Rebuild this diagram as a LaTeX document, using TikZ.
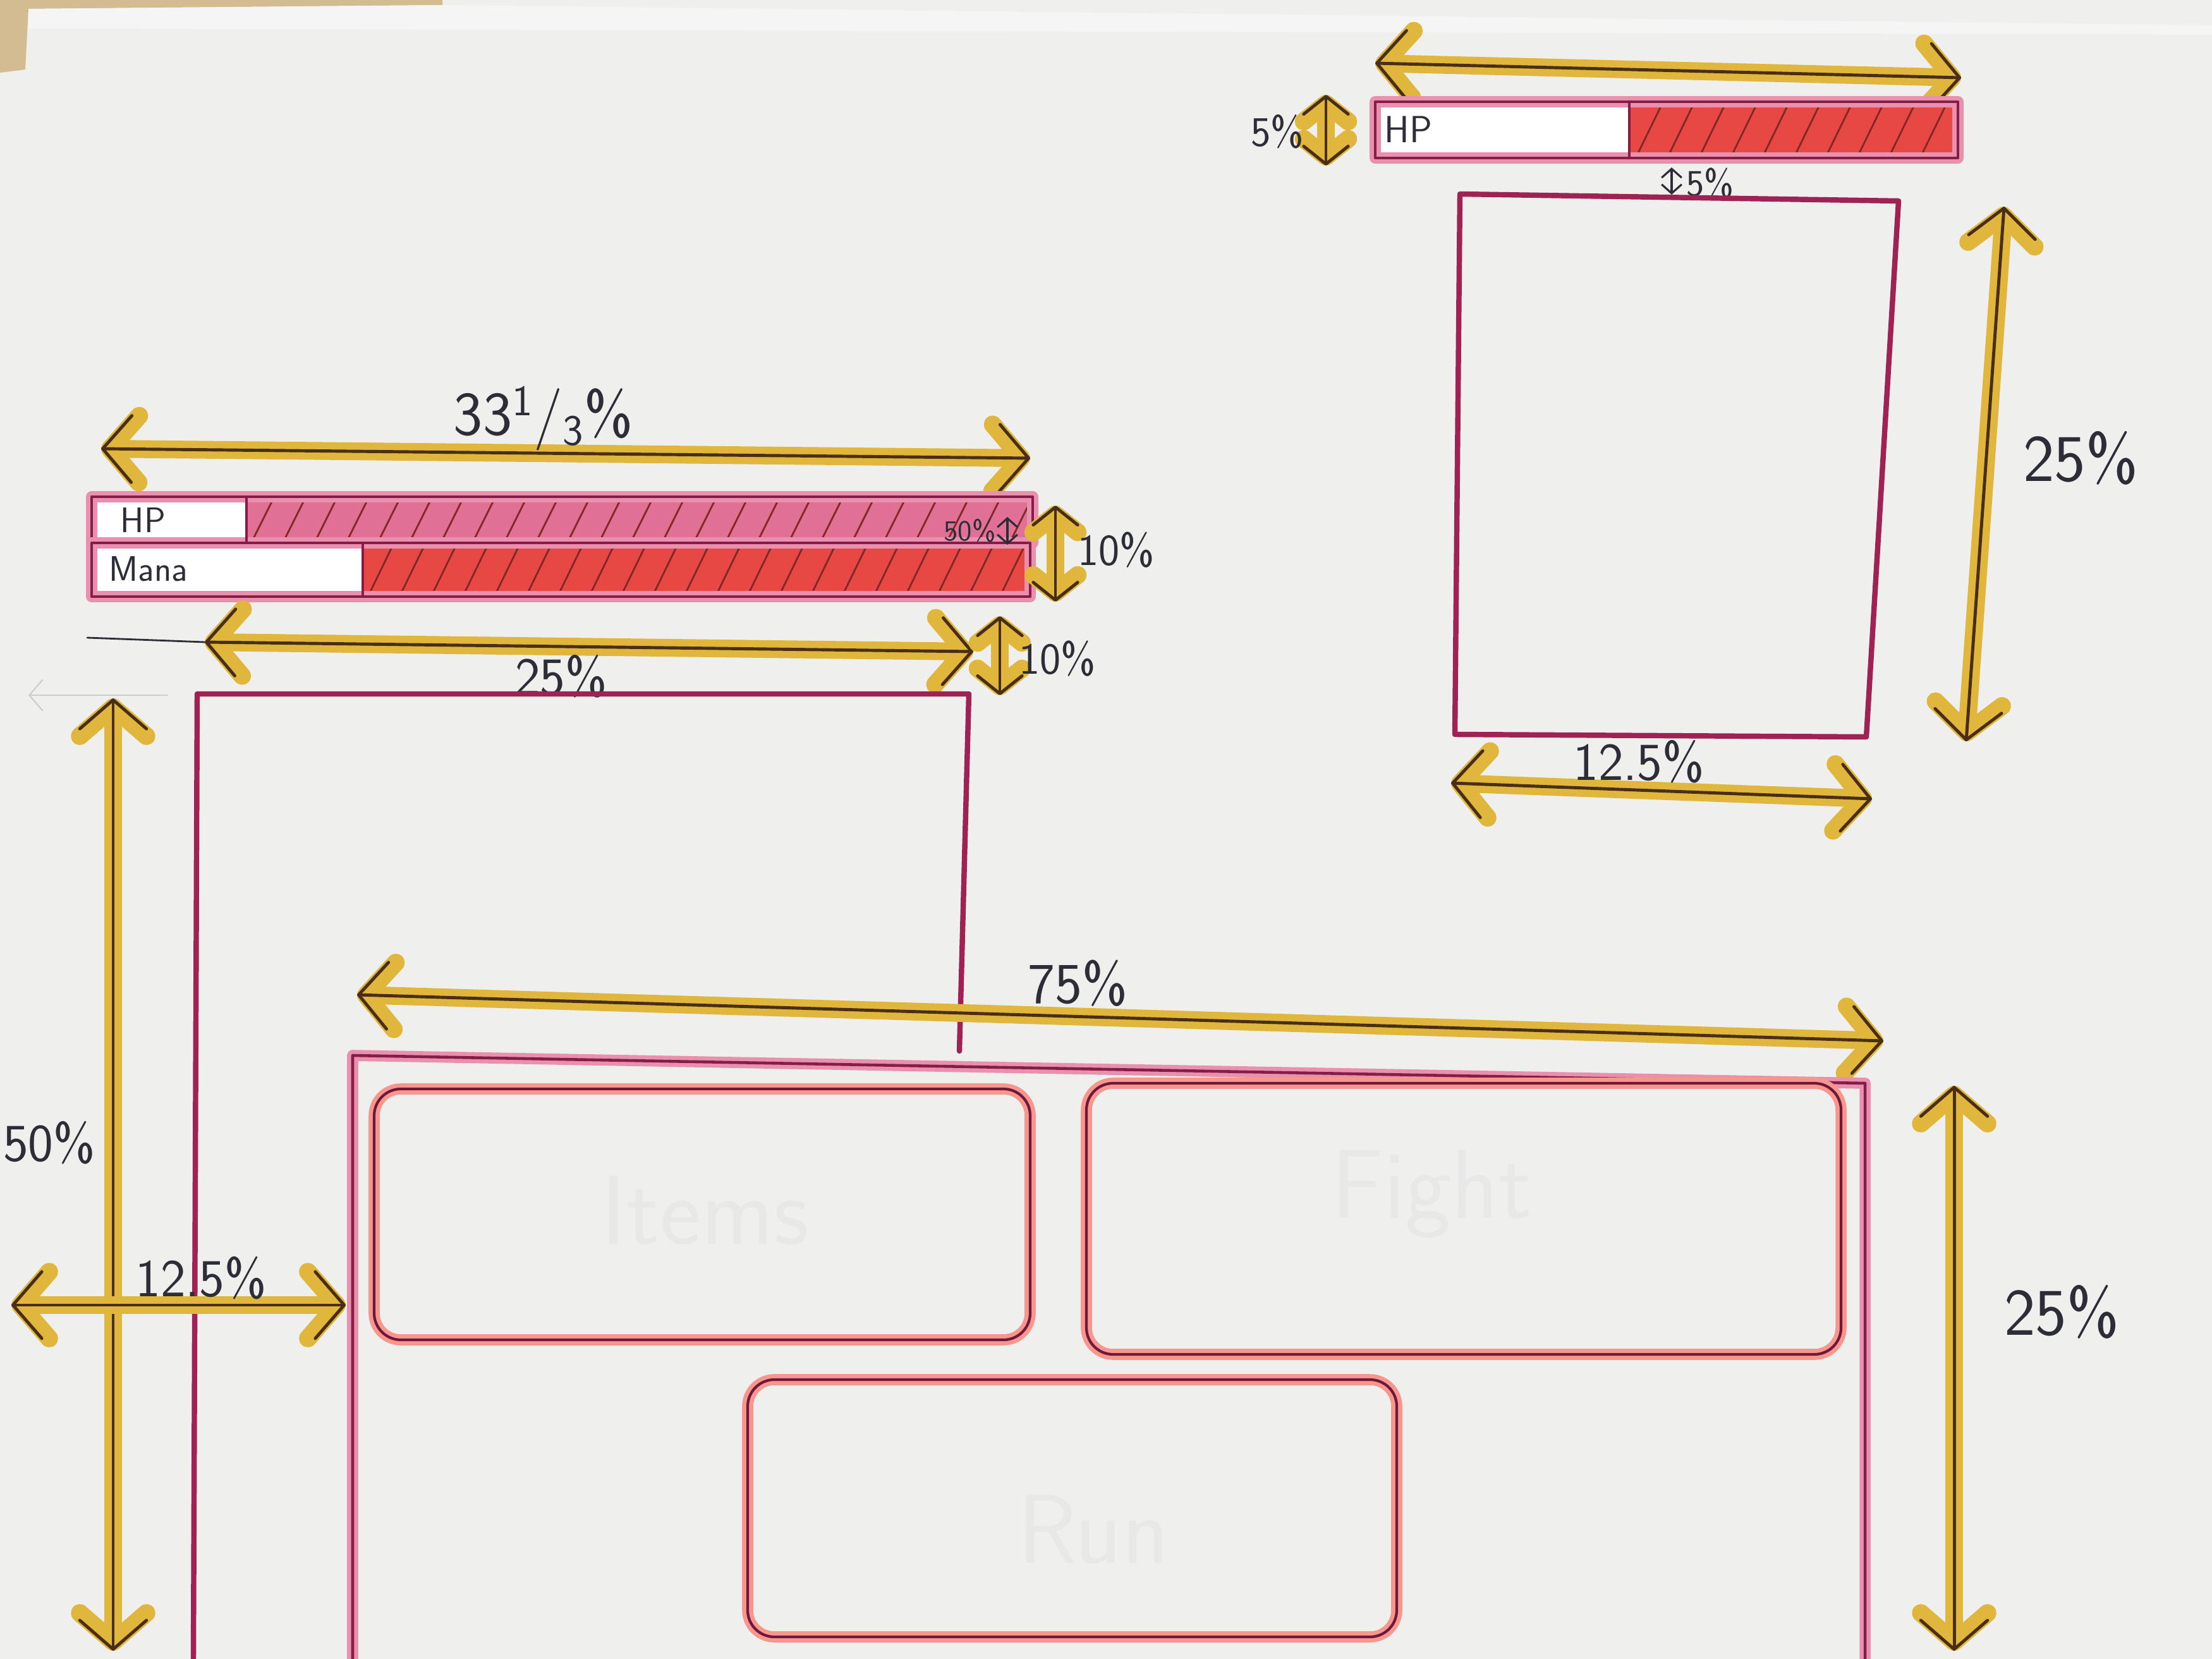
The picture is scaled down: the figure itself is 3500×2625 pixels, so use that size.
\documentclass[tikz,border=0pt]{standalone}
\usepackage{fontspec}
\usetikzlibrary{arrows.meta}
\definecolor{cpaper}{RGB}{239,239,237}
\definecolor{cwood}{RGB}{212,188,146}
\definecolor{cgold}{RGB}{224,182,60}
\definecolor{cink}{RGB}{72,46,20}
\definecolor{cplum}{RGB}{158,34,84}
\definecolor{crose}{RGB}{222,96,138}
\definecolor{cred}{RGB}{232,72,68}
\definecolor{csalmon}{RGB}{246,150,140}
\definecolor{cpen}{RGB}{45,45,55}
\tikzset{sketch/.style={x=0.01cm,y=-0.01cm,line join=round,line cap=round}}
\tikzset{bigbarb/.tip={Straight Barb[length=13pt,width=30pt,round]},
         smallbarb/.tip={Straight Barb[length=8pt,width=20pt,round]},
         tinybarb/.tip={Straight Barb[length=4pt,width=9pt]}}
\tikzset{measure/.style={cink,line width=1.4pt,#1-#1,
           preaction={draw=cgold,line width=8pt,#1-#1}},
         measure/.default=bigbarb,
         tinyarrow/.style={cpen,line width=0.9pt,tinybarb-tinybarb},
         frame/.style={draw=cplum,line width=2.4pt},
         barframe/.style={draw=cplum!85!black,line width=1.3pt,preaction={draw=crose!70,line width=5pt}},
         button/.style={draw=cplum!70!black,line width=1.2pt,rounded corners=12pt,preaction={draw=csalmon,line width=5pt}},
         hatch/.style={cred!55!black,line width=0.8pt},
         hand/.style={text=cpen,inner sep=0pt,font=\sffamily\fontsize{#1}{#1}\selectfont},
         pencil/.style={text=black!9,inner sep=0pt,font=\sffamily\fontsize{44}{44}\selectfont}}

\begin{document}
\begin{tikzpicture}[sketch]
  \fill[cpaper] (0,0) rectangle (3500,2625);
  \useasboundingbox (0,0) rectangle (3500,2625);
  \fill[cwood] (0,0) -- (700,0) -- (700,8) -- (45,14) -- (40,110) -- (0,115) -- cycle;
  \fill[black!4] (45,14) -- (700,8) -- (3500,40) -- (3500,55) -- (45,45) -- cycle;

  % top right: small hp bar over the portrait
  \coordinate (tbL) at (2176,100); \coordinate (tbR) at (3103,123);
  \draw[measure] (tbL) -- (tbR);
  \fill[white] (2176,161) rectangle (2578,250);
  \fill[cred] (2578,161) rectangle (3098,250);
  \begin{scope}
    \clip (2578,161) rectangle (3098,250);
    \foreach \x in {2590,2640,...,3110} \draw[hatch] (\x,246) -- ++(40,-82);
  \end{scope}
  \draw[barframe] (2176,161) rectangle (3098,250);
  \draw[cplum!85!black,line width=1.3pt] (2578,161) -- (2578,250);
  \node[hand=17,anchor=west] (hpS) at (2190,205) {HP};
  \coordinate (hsT) at (2098,150); \coordinate (hsB) at (2098,262);
  \draw[measure=smallbarb] (hsT) -- (hsB);
  \node[hand=19,anchor=east] (hsLbl) at (2064,208) {5\%};
  \coordinate (gapT) at (2645,265); \coordinate (gapB) at (2645,308);
  \draw[tinyarrow] (gapT) -- (gapB);
  \node[hand=17,anchor=west] (gapLbl) at (2668,290) {5\%};

  \draw[frame] (2310,307) -- (3004,318) -- (2953,1166) -- (2302,1162) -- cycle;
  \coordinate (prT) at (3171,327); \coordinate (prB) at (3111,1173);
  \draw[measure] (prT) -- (prB);
  \node[hand=30] (prLbl) at (3292,725) {25\%};
  \coordinate (pwL) at (2296,1239); \coordinate (pwR) at (2962,1264);
  \draw[measure] (pwL) -- (pwR);
  \node[hand=24] (pwLbl) at (2593,1205) {12.5\%};

  % left: hp and mana bars
  \coordinate (hbL) at (160,710); \coordinate (hbR) at (1630,725);
  \draw[measure] (hbL) -- (hbR);
  \node[hand=28] (hbLbl) at (860,662) {33\textsuperscript{1}/\textsubscript{3}\%};
  \fill[white] (145,786) rectangle (1634,944);
  \fill[crose!90] (390,786) rectangle (1634,859);
  \fill[cred] (574,859) rectangle (1630,944);
  \begin{scope}
    \clip (390,786) rectangle (1634,859);
    \foreach \x in {400,450,...,1640} \draw[hatch] (\x,854) -- ++(32,-64);
  \end{scope}
  \begin{scope}
    \clip (574,859) rectangle (1630,944);
    \foreach \x in {585,635,...,1640} \draw[hatch] (\x,938) -- ++(36,-74);
  \end{scope}
  \draw[barframe] (145,786) rectangle (1634,859);
  \draw[barframe] (145,859) rectangle (1630,944);
  \draw[cplum!85!black,line width=1.1pt] (390,786) -- (390,859) (574,859) -- (574,944);
  \node[hand=16,anchor=west] (hpL) at (190,823) {HP};
  \node[hand=16,anchor=west] (mana) at (172,900) {Mana};
  \node[hand=13,anchor=east] (halfLbl) at (1576,840) {50\%};
  \coordinate (halfT) at (1594,818); \coordinate (halfB) at (1594,862);
  \draw[tinyarrow] (halfT) -- (halfB);
  \coordinate (bhT) at (1670,800); \coordinate (bhB) at (1670,952);
  \draw[measure=smallbarb] (bhT) -- (bhB);
  \node[hand=20,anchor=west] (bhLbl) at (1705,870) {10\%};

  % left: portrait frame and its gaps
  \coordinate (rule) at (138,1009);
  \coordinate (gwL) at (324,1016); \coordinate (gwR) at (1540,1031);
  \draw[cpen,line width=0.8pt] (rule) -- (gwL);
  \draw[measure] (gwL) -- (gwR);
  \node[hand=24] (gwLbl) at (888,1070) {25\%};
  \coordinate (ggT) at (1582,975); \coordinate (ggB) at (1582,1100);
  \draw[measure=smallbarb] (ggT) -- (ggB);
  \node[hand=20,anchor=west] (ggLbl) at (1612,1042) {10\%};
  \draw[frame] (306,2625) -- (312,1098) -- (1533,1098) -- (1518,1663);
  \coordinate (pnA) at (265,1100); \coordinate (pnB) at (45,1100);
  \draw[black!20,line width=0.6pt,-{Straight Barb[length=6pt,width=14pt]}] (pnA) -- (pnB);

  \coordinate (lhT) at (179,1105); \coordinate (lhB) at (179,2612);
  \draw[measure] (lhT) -- (lhB);
  \node[hand=24] (lhLbl) at (78,1808) {50\%};
  \coordinate (lwL) at (18,2065); \coordinate (lwR) at (547,2065);
  \draw[measure] (lwL) -- (lwR);
  \node[hand=24] (lwLbl) at (318,2022) {12.5\%};

  % bottom: action panel with buttons
  \coordinate (awL) at (565,1574); \coordinate (awR) at (2980,1647);
  \draw[measure] (awL) -- (awR);
  \node[hand=26] (awLbl) at (1705,1556) {75\%};
  \draw[barframe] (558,2625) -- (558,1670) -- (2951,1714) -- (2951,2625);
  \draw[button] (592,1723) rectangle (1630,2120);
  \draw[button] (1719,1714) rectangle (2913,2143);
  \draw[button] (1183,2183) rectangle (2210,2590);
  \node[pencil] (items) at (1116,1915) {Items};
  \node[pencil] (fight) at (2265,1890) {Fight};
  \node[pencil] (run) at (1730,2420) {Run};
  \coordinate (ahT) at (3092,1718); \coordinate (ahB) at (3092,2612);
  \draw[measure] (ahT) -- (ahB);
  \node[hand=30] (ahLbl) at (3262,2076) {25\%};
\end{tikzpicture}
\end{document}
